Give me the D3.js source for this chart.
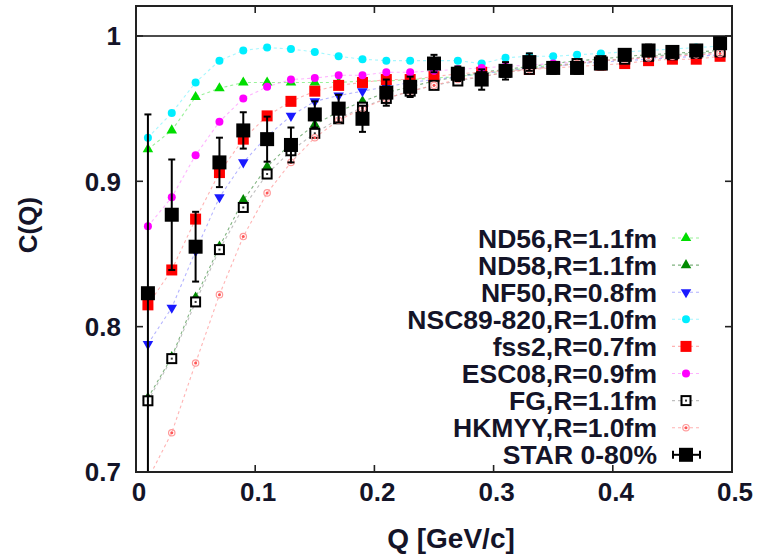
<!DOCTYPE html>
<html><head><meta charset="utf-8">
<script src="https://cdn.jsdelivr.net/npm/d3@7"></script>
<style>
html,body{margin:0;padding:0;background:#fff;}
svg text{font-family:"Liberation Sans",Arial,sans-serif;font-weight:bold;fill:#141428;}
</style></head><body>
<svg id="c" width="758" height="555"></svg>
<script>
const Q = [0.01,0.03,0.05,0.07,0.09,0.11,0.13,0.15,0.17,0.19,0.21,0.23,0.25,0.27,0.29,0.31,0.33,0.35,0.37,0.39,0.41,0.43,0.45,0.47,0.49];
const ND56  = [0.922,0.935,0.958,0.964,0.968,0.968,0.968,0.968,0.968,0.969,0.969,0.970,0.971,0.972,0.974,0.976,0.978,0.980,0.981,0.983,0.984,0.986,0.987,0.988,0.989];
const ND58  = [0.751,0.779,0.820,0.855,0.887,0.910,0.926,0.939,0.948,0.955,0.961,0.965,0.969,0.972,0.975,0.977,0.979,0.981,0.983,0.984,0.986,0.987,0.988,0.989,0.990];
const NF50  = [0.788,0.813,0.852,0.889,0.913,0.931,0.945,0.955,0.959,0.962,0.965,0.968,0.970,0.972,0.974,0.976,0.978,0.979,0.981,0.982,0.983,0.984,0.985,0.986,0.987];
const NSC89 = [0.930,0.947,0.968,0.983,0.990,0.992,0.991,0.989,0.986,0.984,0.983,0.983,0.983,0.983,0.981,0.985,0.986,0.986,0.987,0.988,0.989,0.990,0.991,0.992,0.993];
const FSS2  = [0.815,0.839,0.874,0.906,0.929,0.945,0.955,0.962,0.966,0.968,0.970,0.970,0.972,0.974,0.975,0.976,0.977,0.978,0.979,0.980,0.981,0.983,0.984,0.984,0.986];
const ESC08 = [0.869,0.889,0.918,0.941,0.957,0.965,0.970,0.971,0.973,0.973,0.975,0.975,0.976,0.977,0.978,0.979,0.980,0.981,0.982,0.983,0.984,0.985,0.986,0.987,0.988];
const FG    = [0.749,0.778,0.817,0.853,0.882,0.905,0.921,0.933,0.943,0.951,0.957,0.962,0.966,0.969,0.972,0.975,0.977,0.979,0.981,0.983,0.984,0.986,0.987,0.988,0.989];
const HKMYY = [0.695,0.727,0.775,0.822,0.862,0.892,0.913,0.930,0.942,0.950,0.957,0.962,0.966,0.970,0.972,0.975,0.977,0.979,0.981,0.983,0.984,0.985,0.986,0.987,0.988];
const STAR  = [0.823,0.877,0.855,0.913,0.935,0.929,0.925,0.946,0.950,0.943,0.961,0.965,0.981,0.974,0.970,0.976,0.982,0.978,0.978,0.981,0.987,0.990,0.989,0.990,0.995];
const STARerr = [0.123,0.038,0.024,0.017,0.0125,0.0155,0.012,0.009,0.0095,0.009,0.009,0.007,0.006,0.005,0.007,0.006,0.006,0.004,0.004,0.004,0.004,0.004,0.003,0.003,0.003];
const xTicks = [0,0.1,0.2,0.3,0.4,0.5];
const yTicks = [0.7,0.8,0.9,1];
const labels = ["ND56,R=1.1fm","ND58,R=1.1fm","NF50,R=0.8fm","NSC89-820,R=1.0fm","fss2,R=0.7fm","ESC08,R=0.9fm","FG,R=1.1fm","HKMYY,R=1.0fm","STAR 0-80%"];

const svg = d3.select("#c");
const L=136,R=732,T=6,B=472;
const x = d3.scaleLinear().domain([0,0.5]).range([L,R]);
const y = d3.scaleLinear().domain([0.7,1.0206]).range([B,T]);

svg.append("defs").append("clipPath").attr("id","clip")
  .append("rect").attr("x",L).attr("y",T).attr("width",R-L).attr("height",B-T);

const series = [
  {name:labels[0], v:ND56,  col:"#00dd00", line:"#77ee77", sym:"tri"},
  {name:labels[1], v:ND58,  col:"#008a00", line:"#559955", sym:"tri"},
  {name:labels[2], v:NF50,  col:"#1a1aff", line:"#9999ff", sym:"tridown"},
  {name:labels[3], v:NSC89, col:"#00eeff", line:"#88f4ff", sym:"circ"},
  {name:labels[4], v:FSS2,  col:"#ff0000", line:"#ff9999", sym:"sq"},
  {name:labels[5], v:ESC08, col:"#ff00ff", line:"#ff99ff", sym:"circ"},
  {name:labels[6], v:FG,    col:"#000000", line:"#aaaaaa", sym:"opensq"},
  {name:labels[7], v:HKMYY, col:"#ff5555", line:"#ff9999", sym:"star"}
];

function drawSym(g, s, cx, cy){
  if(s.sym==="tri"){
    g.append("path").attr("d",d3.symbol(d3.symbolTriangle,48)()).attr("transform",`translate(${cx},${cy})`).attr("fill",s.col);
  } else if(s.sym==="tridown"){
    g.append("path").attr("d",d3.symbol(d3.symbolTriangle,48)()).attr("transform",`translate(${cx},${cy}) rotate(180)`).attr("fill",s.col);
  } else if(s.sym==="circ"){
    g.append("circle").attr("cx",cx).attr("cy",cy).attr("r",4).attr("fill",s.col);
  } else if(s.sym==="sq"){
    g.append("rect").attr("x",cx-5.5).attr("y",cy-5.5).attr("width",11).attr("height",11).attr("fill",s.col);
  } else if(s.sym==="opensq"){
    g.append("rect").attr("x",cx-4.5).attr("y",cy-4.5).attr("width",9).attr("height",9).attr("fill","#fff").attr("stroke","#000").attr("stroke-width",2);
    g.append("rect").attr("x",cx-1).attr("y",cy-1).attr("width",2).attr("height",2).attr("fill","#333");
  } else if(s.sym==="star"){
    g.append("circle").attr("cx",cx).attr("cy",cy).attr("r",3.2).attr("fill","none").attr("stroke","#ff9a9a").attr("stroke-width",1.2);
    g.append("circle").attr("cx",cx).attr("cy",cy).attr("r",1.5).attr("fill",s.col);
  }
}

const plot = svg.append("g").attr("clip-path","url(#clip)");
plot.append("line").attr("x1",L).attr("x2",R).attr("y1",y(1)).attr("y2",y(1)).attr("stroke","#111").attr("stroke-width",1.6);

const line = d3.line().x((d,i)=>x(Q[i])).y(d=>y(d));
series.forEach(s=>{
  plot.append("path").attr("d",line(s.v)).attr("fill","none").attr("stroke",s.line)
    .attr("stroke-width",1.1).attr("stroke-dasharray","3,3").attr("opacity",0.75);
});
series.forEach(s=>{
  const g = plot.append("g");
  s.v.forEach((d,i)=>drawSym(g,s,x(Q[i]),y(d)));
});
const sg = plot.append("g");
STAR.forEach((d,i)=>{
  const cx=x(Q[i]), e=STARerr[i];
  sg.append("line").attr("x1",cx).attr("x2",cx).attr("y1",y(d-e)).attr("y2",y(d+e)).attr("stroke","#000").attr("stroke-width",2);
  [d-e,d+e].forEach(v=>sg.append("line").attr("x1",cx-3.5).attr("x2",cx+3.5).attr("y1",y(v)).attr("y2",y(v)).attr("stroke","#000").attr("stroke-width",2));
  sg.append("rect").attr("x",cx-7).attr("y",y(d)-7).attr("width",14).attr("height",14).attr("fill","#000");
});

svg.append("rect").attr("x",L).attr("y",T).attr("width",R-L).attr("height",B-T).attr("fill","none").attr("stroke","#222").attr("stroke-width",2);
const tk = svg.append("g").attr("stroke","#222").attr("stroke-width",1.6);
xTicks.forEach(t=>{
  tk.append("line").attr("x1",x(t)).attr("x2",x(t)).attr("y1",B).attr("y2",B-7);
  tk.append("line").attr("x1",x(t)).attr("x2",x(t)).attr("y1",T).attr("y2",T+7);
});
yTicks.forEach(t=>{
  tk.append("line").attr("x1",L).attr("x2",L+7).attr("y1",y(t)).attr("y2",y(t));
  tk.append("line").attr("x1",R).attr("x2",R-7).attr("y1",y(t)).attr("y2",y(t));
});
const fmt = d3.format("");
xTicks.forEach(t=>{
  svg.append("text").attr("x",x(t)+3).attr("y",501).attr("text-anchor","middle").attr("font-size",26).text(fmt(t));
});
yTicks.forEach(t=>{
  svg.append("text").attr("x",121).attr("y",y(t)).attr("dy","0.36em").attr("text-anchor","end").attr("font-size",26).text(fmt(t));
});
svg.append("text").attr("x",451).attr("y",548).attr("text-anchor","middle").attr("font-size",28).text("Q [GeV/c]");
svg.append("text").attr("transform","translate(37,225) rotate(-90)").attr("text-anchor","middle").attr("font-size",26).text("C(Q)");

const ly0=238, ldy=27.1, ltx=657, lsx=686;
const leg = svg.append("g");
labels.forEach((lab,i)=>{
  const yy = ly0+i*ldy;
  leg.append("text").attr("x",ltx).attr("y",yy).attr("dy","0.36em").attr("text-anchor","end").attr("font-size",26.5).text(lab);
  if(i<8){
    const s=series[i];
    leg.append("line").attr("x1",672).attr("x2",700).attr("y1",yy).attr("y2",yy).attr("stroke",s.line).attr("stroke-width",1.1).attr("stroke-dasharray","3,3").attr("opacity",0.75);
    drawSym(leg,s,lsx,yy);
  } else {
    leg.append("line").attr("x1",673).attr("x2",700).attr("y1",yy).attr("y2",yy).attr("stroke","#000").attr("stroke-width",2);
    [673,700].forEach(xx=>leg.append("line").attr("x1",xx).attr("x2",xx).attr("y1",yy-4).attr("y2",yy+4).attr("stroke","#000").attr("stroke-width",2));
    leg.append("rect").attr("x",lsx-7).attr("y",yy-7).attr("width",14).attr("height",14).attr("fill","#000");
  }
});
</script>
</body></html>
